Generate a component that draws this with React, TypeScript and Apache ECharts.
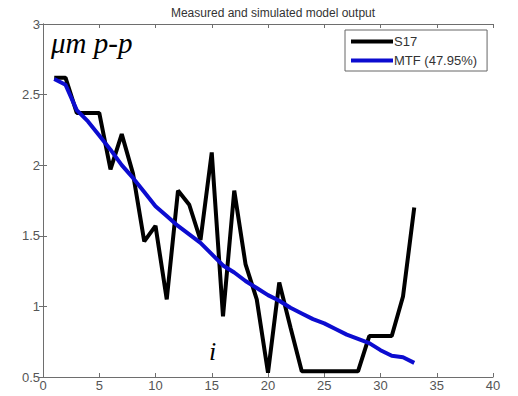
import React, { useEffect, useRef } from "react";
import * as echarts from "echarts";

const xIndex = [1,2,3,4,5,6,7,8,9,10,11,12,13,14,15,16,17,18,19,20,21,22,23,24,25,26,27,28,29,30,31,32,33];
const s17 = [2.62,2.62,2.37,2.37,2.37,1.97,2.22,1.94,1.46,1.57,1.05,1.82,1.72,1.47,2.09,0.93,1.82,1.30,1.05,0.53,1.17,0.85,0.54,0.54,0.54,0.54,0.54,0.54,0.79,0.79,0.79,1.07,1.70];
const mtf = [2.61,2.57,2.39,2.31,2.21,2.11,2.00,1.91,1.81,1.71,1.64,1.57,1.51,1.45,1.37,1.29,1.24,1.18,1.13,1.08,1.04,0.99,0.95,0.91,0.88,0.84,0.80,0.77,0.74,0.69,0.65,0.64,0.60];
const seriesNames = ["S17", "MTF (47.95%)"];
const titleText = "Measured and simulated model output";

export default function App() {
  const ref = useRef<HTMLDivElement>(null);
  useEffect(() => {
    if (!ref.current) return;
    const chart = echarts.init(ref.current, null, { renderer: "svg" });
    const axisCol = "#6e6e6e";
    const labelCol = "#555";
    const font = "Liberation Sans, Arial, sans-serif";
    chart.setOption({
      animation: false,
      backgroundColor: "#fff",
      title: {
        text: titleText,
        left: 268,
        top: 2,
        textAlign: "center",
        textStyle: { fontSize: 12, fontWeight: "normal", color: "#333", fontFamily: font },
      },
      legend: {
        orient: "vertical",
        left: 345,
        top: 30,
        width: 140,
        padding: [5, 10, 4, 6],
        itemGap: 6,
        itemWidth: 42,
        itemHeight: 4,
        icon: "rect",
        borderColor: "#666",
        borderWidth: 1,
        backgroundColor: "#fff",
        textStyle: { fontSize: 13, color: "#333", fontFamily: font, padding: [0, 0, 0, -4] },
        data: seriesNames,
      },
      grid: { left: 43, top: 24, width: 450, height: 353 },
      xAxis: [
        {
          type: "value", min: 0, max: 40, interval: 5,
          axisLine: { show: true, lineStyle: { color: axisCol, width: 1 } },
          axisTick: { show: true, inside: true, length: 4, lineStyle: { color: axisCol } },
          axisLabel: { color: labelCol, fontSize: 13, fontFamily: font, margin: 2 },
          splitLine: { show: false },
        },
        {
          type: "value", min: 0, max: 40, interval: 5, position: "top",
          axisLine: { show: true, lineStyle: { color: axisCol, width: 1 } },
          axisTick: { show: true, inside: true, length: 4, lineStyle: { color: axisCol } },
          axisLabel: { show: false },
          splitLine: { show: false },
        },
      ],
      yAxis: [
        {
          type: "value", min: 0.5, max: 3, interval: 0.5,
          axisLine: { show: true, lineStyle: { color: axisCol, width: 1 } },
          axisTick: { show: true, inside: true, length: 4, lineStyle: { color: axisCol } },
          axisLabel: { color: labelCol, fontSize: 13, fontFamily: font, margin: 3 },
          splitLine: { show: false },
        },
        {
          type: "value", min: 0.5, max: 3, interval: 0.5, position: "right",
          axisLine: { show: true, lineStyle: { color: axisCol, width: 1 } },
          axisTick: { show: true, inside: true, length: 4, lineStyle: { color: axisCol } },
          axisLabel: { show: false },
          splitLine: { show: false },
        },
      ],
      graphic: [
        {
          type: "text", left: 51, top: 28, z: 100,
          style: { text: "μm p-p", font: "italic 29px 'Liberation Serif', 'DejaVu Serif', serif", fill: "#000" },
        },
        {
          type: "text", left: 209, top: 338, z: 100,
          style: { text: "i", font: "italic 26px 'Liberation Serif', 'DejaVu Serif', serif", fill: "#000" },
        },
      ],
      series: [
        {
          name: seriesNames[0], type: "line", data: xIndex.map((x, i) => [x, s17[i]]),
          showSymbol: false, symbol: "none", lineStyle: { color: "#000", width: 4 }, itemStyle: { color: "#000" },
          z: 2,
        },
        {
          name: seriesNames[1], type: "line", data: xIndex.map((x, i) => [x, mtf[i]]),
          showSymbol: false, symbol: "none", lineStyle: { color: "#0c0cd0", width: 4 }, itemStyle: { color: "#0c0cd0" },
          z: 3,
        },
      ],
    });
    return () => chart.dispose();
  }, []);
  return <div ref={ref} style={{ position: "fixed", left: 0, top: 0, width: 518, height: 396 }} />;
}
